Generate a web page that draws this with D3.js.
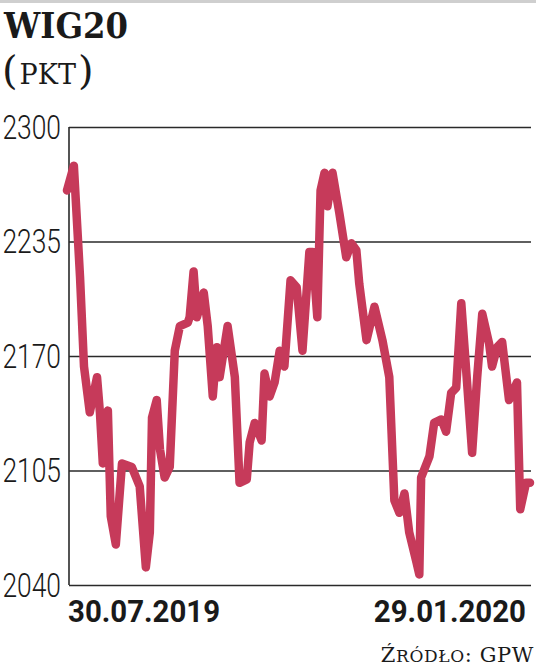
<!DOCTYPE html>
<html><head><meta charset="utf-8">
<script src="https://cdn.jsdelivr.net/npm/d3@7"></script>
<style>body{margin:0;background:#fff;overflow:hidden}</style>
</head><body><script>
// session index (trading days from 30.07.2019) and WIG20 close, points
const sessions = [0,1.9,3.6,4.7,6.3,8.3,9.1,9.9,11.3,12.1,13.5,15.2,17.9,20.1,21.8,22.9,23.5,24.8,25.7,27,28.4,29.8,31.2,33.4,33.9,35,35.9,37.8,38.9,40.3,41.4,42.2,44.4,46.4,47.7,49.7,50.5,51.9,53.8,54.6,56,57.4,58.8,60.1,61.8,63.5,65.1,67,67.9,69.2,70.1,71.2,72,73.4,75.3,77.2,78.6,80,80.8,82.8,85,87.2,89.1,90.5,91.9,93.3,94.6,96.6,97.4,97.9,100.2,101.5,103.5,104.8,106.2,107.6,109,110.6,112,113.4,114.8,116.7,117.5,118.9,120.3,122.2,124.4,125.3,126.9,128];
const values = [2264,2278,2215,2164,2138,2158,2138,2109,2139,2079,2063,2109,2107,2096,2050,2070,2135,2145,2117,2101,2107,2173,2187,2189,2192,2218,2192,2206,2187,2147,2175,2158,2187,2158,2098,2100,2121,2132,2122,2160,2147,2155,2173,2164,2213,2209,2173,2229,2229,2192,2264,2274,2255,2274,2251,2226,2234,2230,2211,2179,2198,2179,2158,2088,2081,2092,2070,2053,2046,2101,2113,2132,2134,2127,2149,2152,2200,2155,2115,2158,2194,2177,2164,2175,2178,2145,2155,2083,2098,2098];
const yTicks = [2040,2105,2170,2235,2300];
const dateLabels = ["30.07.2019","29.01.2020"];
const title = "WIG20";
const unit = "PKT";

const W = 536, H = 670;
const svg = d3.select("body").append("svg").attr("width", W).attr("height", H);

svg.append("rect").attr("x",0).attr("y",0).attr("width",W).attr("height",3).attr("fill","#cfcfcf");

const pLeft = 69, pRight = 531, pTop = 127, pBottom = 585;
const x = d3.scaleLinear().domain([0,128]).range([67,530]);
const y = d3.scaleLinear().domain([2040,2300]).range([pBottom, pTop]);

// title
svg.append("text").attr("x",4).attr("y",38)
  .attr("font-family","DejaVu Serif").attr("font-weight","bold").attr("font-size",35)
  .attr("textLength",124).attr("lengthAdjust","spacingAndGlyphs")
  .attr("fill","#1a1a1a").text(title);
const sub = svg.append("text").attr("x",2).attr("y",84)
  .attr("font-family","DejaVu Serif").attr("fill","#1a1a1a");
sub.append("tspan").attr("font-size",40).text("(");
sub.append("tspan").attr("font-size",27).attr("dx",2).text(unit);
sub.append("tspan").attr("font-size",40).attr("dx",2).text(")");

// grid
const grid = svg.append("g").attr("transform",`translate(${pLeft},0)`)
  .call(d3.axisLeft(y).tickValues(yTicks).tickSize(-(pRight-pLeft)).tickFormat(""));
grid.select(".domain").remove();
grid.selectAll(".tick line").attr("stroke","#2a2a2a").attr("stroke-width",1.6);

// y labels
svg.append("g").selectAll("text").data(yTicks).join("text")
  .attr("transform", d => `translate(61,${y(d)}) scale(0.8,1)`)
  .attr("text-anchor","end").attr("dy","0.36em")
  .attr("font-family","Roboto").attr("font-weight",300).attr("font-size",33)
  .attr("fill","#1a1a1a").text(d => d);

// left axis line
svg.append("line").attr("x1",pLeft).attr("x2",pLeft).attr("y1",pTop).attr("y2",pBottom)
  .attr("stroke","#2a2a2a").attr("stroke-width",1.6);

// line
const pts = sessions.map((s,i)=>[s, values[i]]);
svg.append("path").datum(pts)
  .attr("d", d3.line().x(d=>x(d[0])).y(d=>y(d[1])))
  .attr("fill","none").attr("stroke","#c63a5a").attr("stroke-width",8.5)
  .attr("stroke-linejoin","round").attr("stroke-linecap","round");

// date labels
svg.append("text").attr("transform","translate(68,622) scale(0.92,1)")
  .attr("font-family","Roboto").attr("font-weight","bold").attr("font-size",32)
  .attr("fill","#1a1a1a").text(dateLabels[0]);
svg.append("text").attr("transform","translate(526,622) scale(0.92,1)").attr("text-anchor","end")
  .attr("font-family","Roboto").attr("font-weight","bold").attr("font-size",32)
  .attr("fill","#1a1a1a").text(dateLabels[1]);

// source
const src = svg.append("text").attr("x",534).attr("y",662).attr("text-anchor","end")
  .attr("font-family","DejaVu Serif").attr("fill","#1a1a1a").attr("letter-spacing",0.6);
src.append("tspan").attr("font-size",21).text("Ź");
src.append("tspan").attr("font-size",17).text("RÓDŁO");
src.append("tspan").attr("font-size",21).text(": GPW");
</script></body></html>
